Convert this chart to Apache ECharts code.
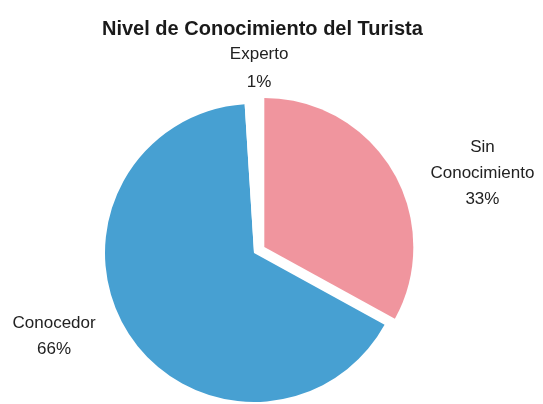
<!DOCTYPE html>
<html>
<head>
<meta charset="utf-8">
<script src="https://cdn.jsdelivr.net/npm/echarts@6/dist/echarts.min.js"></script>
<style>
  html, body { margin: 0; padding: 0; background: #ffffff; }
  #chart { width: 543px; height: 404px; }
</style>
</head>
<body>
<div id="chart"></div>
<script>
// Distribución del nivel de conocimiento (porcentaje de turistas)
const categories = ['Sin\nConocimiento', 'Conocedor', 'Experto'];
const values = [33, 66, 1];
const colors = ['#f0959e', '#47a0d2', '#ffffff'];
const exploded = [true, false, false];

// Per-slice label line lengths (the lines themselves are hidden)
const lineLength = [1, 3, 38];
const lineLength2 = [32, 25, 0];

const chart = echarts.init(document.getElementById('chart'), null, { renderer: 'canvas' });

const total = values.reduce((a, b) => a + b, 0);

// small vertical nudges for the label blocks
const labelNudgeY = [3, 2, 2];

const option = {
  animation: false,
  backgroundColor: '#ffffff',
  title: {
    text: 'Nivel de Conocimiento del Turista',
    left: 97,
    top: 14,
    textStyle: {
      fontFamily: 'Liberation Sans, Arial, sans-serif',
      fontSize: 20,
      fontWeight: 'bold',
      color: '#1a1a1a'
    }
  },
  series: [{
    type: 'pie',
    center: [254, 253],
    radius: 149,
    startAngle: 90,
    clockwise: true,
    selectedMode: 'single',
    selectedOffset: 12,
    avoidLabelOverlap: false,
    emphasis: { disabled: true },
    itemStyle: { borderWidth: 0 },
    label: {
      show: true,
      position: 'outside',
      fontFamily: 'Liberation Sans, Arial, sans-serif',
      fontSize: 17,
      color: '#222222',
      formatter: function (p) {
        const pct = Math.round(p.value / total * 100);
        const lines = p.name.split('\n').map(l => '{t|' + l + '}');
        lines.push('{t|' + pct + '%}');
        return lines.join('\n');
      },
      rich: {
        t: {
          fontFamily: 'Liberation Sans, Arial, sans-serif',
          fontSize: 17,
          color: '#222222',
          lineHeight: 26,
          align: 'center'
        }
      }
    },
    labelLine: { show: false },
    labelLayout: function (params) {
      const i = params.dataIndex;
      // the tiny top slice has its label centred over the gap
      const dx = i === 2 ? params.labelRect.width / 2 + 16 : 0;
      return { dx: dx, dy: labelNudgeY[i] };
    },
    data: categories.map((name, i) => ({
      name: name,
      value: values[i],
      selected: exploded[i],
      itemStyle: { color: colors[i] },
      select: { itemStyle: { color: colors[i] } },
      labelLine: { show: false, length: lineLength[i], length2: lineLength2[i] },
      label: i === 2 ? { rich: { t: { lineHeight: 28 } } } : undefined
    }))
  }]
};

chart.setOption(option);
</script>
</body>
</html>
